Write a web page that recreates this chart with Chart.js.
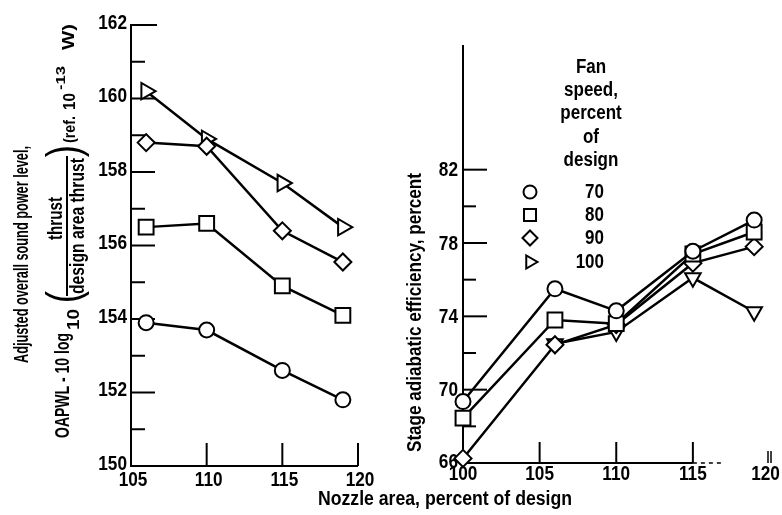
<!DOCTYPE html>
<html><head><meta charset="utf-8">
<script src="https://cdn.jsdelivr.net/npm/chart.js@4/dist/chart.umd.min.js"></script>
<style>
html,body{margin:0;padding:0;background:#fff;}
#wrap{position:relative;width:782px;height:515px;overflow:hidden;background:#fff;}
#wrap canvas{position:absolute;left:0;top:0;}
</style></head><body>
<div id="wrap"><canvas id="cLeft" width="782" height="515"></canvas><canvas id="cRight" width="782" height="515"></canvas></div>
<script>
const FONT = "'Liberation Sans','Arial',sans-serif";

// ---- data ----
const fanSpeeds = ['70', '80', '90', '100'];
const nozzleLeft = [106, 110, 115, 119];
const oapwl70  = [153.9, 153.7, 152.6, 151.8];
const oapwl80  = [156.5, 156.6, 154.9, 154.1];
const oapwl90  = [158.8, 158.7, 156.4, 155.55];
const oapwl100 = [160.2, 158.9, 157.7, 156.5];

const nozzleRight = [100, 106, 110, 115, 119];
const nozzleRight100 = [106, 110, 115, 119];
const eff70  = [69.35, 75.5, 74.3, 77.55, 79.25];
const eff80  = [68.45, 73.8, 73.6, 77.4, 78.6];
const eff90  = [66.25, 72.45, 73.55, 76.9, 77.8];
const eff100 = [72.5, 73.15, 76.1, 74.25];

const leftXLabels = [105, 110, 115, 120];
const leftYLabels = [150, 152, 154, 156, 158, 160, 162];
const leftYMinor = [151, 153, 155, 157, 159, 161];
const rightXLabels = [100, 105, 110, 115, 120];
const rightYLabels = [66, 70, 74, 78, 82];
const rightYMinor = [68, 72, 76, 80];

const xTitle = 'Nozzle area, percent of design';
const yTitleLeft1 = 'Adjusted overall sound power level,';
const yTitleRight = 'Stage adiabatic efficiency, percent';
const legendTitle = ['Fan', 'speed,', 'percent', 'of', 'design'];

// ---- helpers ----
function ds(label, xs, ys, style, rot, r) {
  return {
    label, data: xs.map((x, i) => ({x, y: ys[i]})),
    borderColor: '#000', borderWidth: 2.5, backgroundColor: '#fff',
    pointStyle: style, pointRotation: rot, pointRadius: r, pointHoverRadius: r,
    pointBorderWidth: 2, pointBackgroundColor: '#fff', pointBorderColor: '#000',
    tension: 0, clip: false, fill: false
  };
}
function nText(ctx, text, x, y, size, align, sx) {
  ctx.save();
  ctx.font = `bold ${size}px ${FONT}`;
  ctx.translate(x, y);
  ctx.scale(sx, 1);
  ctx.textAlign = align; ctx.textBaseline = 'middle';
  ctx.fillText(text, 0, 0);
  ctx.restore();
}
function vSpan(ctx, text, yStart, yEnd, v, font) {
  ctx.save();
  ctx.font = font;
  const w = ctx.measureText(text).width;
  ctx.translate(v, yStart);
  ctx.rotate(-Math.PI / 2);
  ctx.scale((yStart - yEnd) / w, 1);
  ctx.textAlign = 'left'; ctx.textBaseline = 'middle';
  ctx.fillText(text, 0, 0);
  ctx.restore();
}
function vCenter(ctx, text, yc, v, font, sx) {
  ctx.save();
  ctx.font = font;
  ctx.translate(v, yc);
  ctx.rotate(-Math.PI / 2);
  ctx.scale(sx || 1, 1);
  ctx.textAlign = 'center'; ctx.textBaseline = 'middle';
  ctx.fillText(text, 0, 0);
  ctx.restore();
}
function hSpan(ctx, text, xStart, xEnd, y, font) {
  ctx.save();
  ctx.font = font;
  const w = ctx.measureText(text).width;
  ctx.translate(xStart, y);
  ctx.scale((xEnd - xStart) / w, 1);
  ctx.textAlign = 'left'; ctx.textBaseline = 'middle';
  ctx.fillText(text, 0, 0);
  ctx.restore();
}
function line(ctx, x1, y1, x2, y2) { ctx.beginPath(); ctx.moveTo(x1, y1); ctx.lineTo(x2, y2); ctx.stroke(); }
const TS = 21, TSX = 0.82;
// library tick labels kept on (transparent) so the scales are laid out as normal; visible labels are drawn narrow below
const quietTicks = {display: true, color: 'rgba(0,0,0,0)', font: {family: FONT, size: 12}, padding: 4, autoSkip: false, maxRotation: 0};

// ---- left chart ----
const leftAxes = {
  id: 'leftAxes',
  beforeDatasetsDraw(chart) {
    const ctx = chart.ctx, xs = chart.scales.x, ys = chart.scales.y;
    const x0 = xs.getPixelForValue(105), y0 = ys.getPixelForValue(150);
    ctx.save();
    ctx.strokeStyle = '#000'; ctx.lineWidth = 2; ctx.lineCap = 'butt';
    line(ctx, x0, ys.getPixelForValue(162) - 1, x0, y0 + 1);
    line(ctx, x0 - 1, y0, xs.getPixelForValue(120), y0);
    leftYLabels.forEach(v => { if (v !== 150) { const y = ys.getPixelForValue(v); line(ctx, x0, y, x0 + (v === 162 ? 26 : 24), y); } });
    leftYMinor.forEach(v => { const y = ys.getPixelForValue(v); line(ctx, x0, y, x0 + 14, y); });
    leftXLabels.forEach(v => { if (v !== 105) { const x = xs.getPixelForValue(v); line(ctx, x, y0, x, y0 - 23); } });
    ctx.restore();
  },
  afterDraw(chart) {
    const ctx = chart.ctx, xs = chart.scales.x, ys = chart.scales.y;
    const x0 = xs.getPixelForValue(105);
    ctx.save();
    ctx.fillStyle = '#000'; ctx.strokeStyle = '#000';
    ys.ticks.forEach(t => nText(ctx, String(t.value), x0 - 4, ys.getPixelForValue(t.value) - 2, TS, 'right', TSX));
    xs.ticks.forEach(t => nText(ctx, String(t.value), xs.getPixelForValue(t.value) + 2, 480, TS, 'center', TSX));
    vSpan(ctx, yTitleLeft1, 363, 146, 22, `bold 20px ${FONT}`);
    vSpan(ctx, 'OAPWL - 10 log', 438, 333, 63, `bold 20px ${FONT}`);
    vSpan(ctx, '10', 330, 309, 75, `bold 16px ${FONT}`);
    vCenter(ctx, '(', 297, 66, `46px ${FONT}`, 0.8);
    vSpan(ctx, 'thrust', 240, 197, 56, `bold 20px ${FONT}`);
    ctx.fillRect(66, 156, 2, 140);
    vSpan(ctx, 'design area thrust', 294, 158, 78, `bold 20px ${FONT}`);
    vCenter(ctx, ')', 151, 66, `46px ${FONT}`, 0.8);
    vSpan(ctx, '(ref.', 143, 116, 70, `bold 17px ${FONT}`);
    vSpan(ctx, '10', 110, 93, 70, `bold 17px ${FONT}`);
    vSpan(ctx, '-13', 90, 66, 61, `bold 13px ${FONT}`);
    vSpan(ctx, 'W)', 50, 24, 69, `bold 17px ${FONT}`);
    ctx.restore();
  }
};

new Chart(document.getElementById('cLeft'), {
  type: 'line',
  data: {datasets: [
    ds(fanSpeeds[0], nozzleLeft, oapwl70, 'circle', 0, 7.5),
    ds(fanSpeeds[1], nozzleLeft, oapwl80, 'rect', 0, 10.5),
    ds(fanSpeeds[2], nozzleLeft, oapwl90, 'rectRot', 0, 8.5),
    ds(fanSpeeds[3], nozzleLeft, oapwl100, 'triangle', 90, 9.5)
  ]},
  options: {
    responsive: false, animation: false, events: [],
    layout: {padding: {top: 25, right: 424, left: 0, bottom: 0}},
    plugins: {legend: {display: false}, tooltip: {enabled: false}},
    scales: {
      x: {type: 'linear', min: 105, max: 120, position: 'bottom',
        afterBuildTicks: s => { s.ticks = leftXLabels.map(v => ({value: v})); },
        afterFit: s => { s.height = 49; s.paddingLeft = 0; s.paddingRight = 0; },
        grid: {display: false, drawTicks: false}, border: {display: false}, ticks: quietTicks},
      y: {type: 'linear', min: 150, max: 162,
        afterBuildTicks: s => { s.ticks = leftYLabels.map(v => ({value: v})); },
        afterFit: s => { s.width = 131; s.paddingTop = 0; s.paddingBottom = 0; },
        grid: {display: false, drawTicks: false}, border: {display: false}, ticks: quietTicks}
    }
  },
  plugins: [leftAxes]
});

// ---- right chart ----
const rightAxes = {
  id: 'rightAxes',
  beforeDatasetsDraw(chart) {
    const ctx = chart.ctx, xs = chart.scales.x, ys = chart.scales.y;
    const x0 = xs.getPixelForValue(100), y0 = ys.getPixelForValue(66);
    ctx.save();
    ctx.strokeStyle = '#000'; ctx.lineWidth = 2;
    line(ctx, x0, chart.chartArea.top, x0, y0 + 1);
    line(ctx, x0 - 1, y0, xs.getPixelForValue(115), y0);
    ctx.setLineDash([4, 4]); ctx.lineWidth = 1.5;
    line(ctx, xs.getPixelForValue(115), y0, xs.getPixelForValue(117), y0);
    ctx.setLineDash([]); ctx.lineWidth = 2;
    rightYLabels.forEach(v => { if (v !== 66) { const y = ys.getPixelForValue(v); line(ctx, x0, y, x0 + 24, y); } });
    rightYMinor.forEach(v => { const y = ys.getPixelForValue(v); line(ctx, x0, y, x0 + 13, y); });
    rightXLabels.forEach(v => {
      const x = xs.getPixelForValue(v);
      if (v === 120) { ctx.lineWidth = 1.5; line(ctx, x - 1.5, y0, x - 1.5, y0 - 12); line(ctx, x + 1.5, y0, x + 1.5, y0 - 12); ctx.lineWidth = 2; }
      else if (v !== 100) line(ctx, x, y0, x, y0 - 21);
    });
    ctx.restore();
  },
  afterDraw(chart) {
    const ctx = chart.ctx, xs = chart.scales.x, ys = chart.scales.y;
    const x0 = xs.getPixelForValue(100);
    ctx.save();
    ctx.fillStyle = '#000'; ctx.strokeStyle = '#000';
    ys.ticks.forEach(t => nText(ctx, String(t.value), x0 - 5, ys.getPixelForValue(t.value) + (t.value === 66 ? -1 : 1), TS, 'right', TSX));
    xs.ticks.forEach(t => nText(ctx, String(t.value), xs.getPixelForValue(t.value) - (t.value === 120 ? 4 : 0), 474, TS, 'center', TSX));
    hSpan(ctx, xTitle, 318, 572, 499, `bold 20px ${FONT}`);
    vSpan(ctx, yTitleRight, 452, 173, 415, `bold 20px ${FONT}`);
    const ly = [67, 90, 113, 137, 160];
    legendTitle.forEach((t, i) => nText(ctx, t, 591, ly[i], 20, 'center', 0.85));
    const ry = [192, 215, 238, 262];
    const styles = [['circle', 0, 6.5], ['rect', 0, 8.5], ['rectRot', 0, 7.5], ['triangle', 90, 7.5]];
    fanSpeeds.forEach((s, i) => {
      nText(ctx, s, 604, ry[i], 20, 'right', 0.85);
      ctx.save();
      ctx.lineWidth = 2; ctx.fillStyle = '#fff'; ctx.strokeStyle = '#000';
      Chart.helpers.drawPoint(ctx, {pointStyle: styles[i][0], rotation: styles[i][1], radius: styles[i][2], borderWidth: 2}, 530, ry[i]);
      ctx.restore();
    });
    ctx.restore();
  }
};

new Chart(document.getElementById('cRight'), {
  type: 'line',
  data: {datasets: [
    ds(fanSpeeds[0], nozzleRight, eff70, 'circle', 0, 7.5),
    ds(fanSpeeds[1], nozzleRight, eff80, 'rect', 0, 10.5),
    ds(fanSpeeds[2], nozzleRight, eff90, 'rectRot', 0, 8.5),
    ds(fanSpeeds[3], nozzleRight100, eff100, 'triangle', 180, 9)
  ]},
  options: {
    responsive: false, animation: false, events: [],
    layout: {padding: {top: 45, right: 12, left: 0, bottom: 0}},
    plugins: {legend: {display: false}, tooltip: {enabled: false}},
    scales: {
      x: {type: 'linear', min: 100, max: 120, position: 'bottom',
        afterBuildTicks: s => { s.ticks = rightXLabels.map(v => ({value: v})); },
        afterFit: s => { s.height = 52; s.paddingLeft = 0; s.paddingRight = 0; },
        grid: {display: false, drawTicks: false}, border: {display: false}, ticks: quietTicks},
      y: {type: 'linear', min: 66, max: 88.8,
        afterBuildTicks: s => { s.ticks = rightYLabels.map(v => ({value: v})); },
        afterFit: s => { s.width = 463; s.paddingTop = 0; s.paddingBottom = 0; },
        grid: {display: false, drawTicks: false}, border: {display: false}, ticks: quietTicks}
    }
  },
  plugins: [rightAxes]
});
</script>
</body></html>
